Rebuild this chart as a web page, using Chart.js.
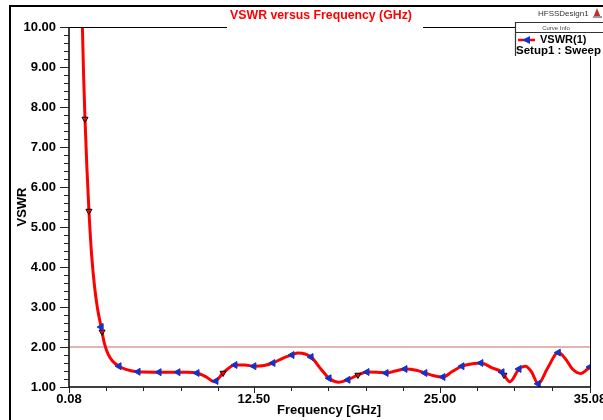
<!DOCTYPE html>
<html><head><meta charset="utf-8">
<script src="https://cdn.jsdelivr.net/npm/chart.js@4/dist/chart.umd.min.js"></script>
<style>html,body{margin:0;padding:0;background:#fff}canvas{display:block}</style>
</head><body>
<div style="width:603px;height:420px"><canvas id="c" width="603" height="420"></canvas></div>
<script>
// ---- data ----
const freqGHz = [0.90,0.98,1.06,1.155,1.28,1.42,1.6,1.8,2.0,2.24,2.45,2.7,3.0,3.44,3.9,4.72,6.13,7.4,8.0,8.68,9.3,9.85,10.43,11.23,11.9,12.5,13.2,13.78,14.5,15.06,15.46,16.34,17.0,17.55,18.22,18.82,19.49,20.1,20.8,21.38,22.0,22.65,23.4,23.99,24.6,25.2,25.8,26.48,27.2,27.75,28.5,29.17,29.7,30.31,30.75,31.15,31.6,32.2,32.95,33.4,33.9,34.45,35.08];
const vswr    = [10.6,10.0,8.8,7.7,6.5,5.4,4.3,3.5,2.95,2.5,2.1,1.83,1.65,1.52,1.44,1.38,1.37,1.37,1.37,1.35,1.25,1.13,1.35,1.55,1.55,1.52,1.54,1.6,1.73,1.8,1.85,1.75,1.45,1.22,1.12,1.18,1.3,1.375,1.37,1.35,1.4,1.45,1.42,1.35,1.28,1.25,1.38,1.52,1.58,1.6,1.48,1.37,1.13,1.45,1.52,1.38,1.08,1.45,1.86,1.72,1.45,1.34,1.5];
const markerFreq = [2.24,3.44,4.72,6.13,7.4,8.68,9.95,11.23,12.5,13.78,15.06,16.34,17.55,18.82,20.1,21.38,22.65,23.99,25.2,26.48,27.75,29.17,30.31,31.6,32.95,35.08];
const markerVswr = [2.5,1.52,1.38,1.37,1.37,1.35,1.15,1.55,1.52,1.6,1.8,1.75,1.22,1.18,1.375,1.35,1.45,1.35,1.25,1.52,1.6,1.37,1.45,1.08,1.86,1.5];
const pointFreq = [1.155,1.42,2.3,10.43,19.49,29.3];
const pointVswr = [7.7,5.4,2.38,1.35,1.3,1.3];
const refFreq = [0.08,35.08];
const refVswr = [2.0,2.0];
const xMajorTicks = [0.08,12.5,25.0,35.08];
const xMinorTicks = [2.58,5.08,7.58,10.08,15,17.5,20,22.5,27.5,30,32.5];
const yMajorTicks = [1,2,3,4,5,6,7,8,9,10];
const yMinorStep = 0.2;

const toXY = (xs, ys) => xs.map((x,i)=>({x:x,y:ys[i]}));
const FONT = "'Liberation Sans', Arial, sans-serif";

const decor = {
  id:'decor',
  afterDraw(chart){
    const ctx = chart.ctx, xs = chart.scales.x, ys = chart.scales.y, a = chart.chartArea;
    ctx.save();
    // outer frame
    ctx.fillStyle = '#000';
    ctx.fillRect(9,5,594,2);
    ctx.fillRect(9,5,2,415);
    // axes
    ctx.strokeStyle = '#000'; ctx.lineWidth = 1.5;
    ctx.beginPath();
    ctx.moveTo(a.left, a.top); ctx.lineTo(a.left, a.bottom); ctx.lineTo(a.right, a.bottom);
    ctx.stroke();
    ctx.lineWidth = 1;
    ctx.beginPath();
    ctx.moveTo(a.left, a.top+0.5); ctx.lineTo(227, a.top+0.5);
    ctx.moveTo(423, a.top+0.5); ctx.lineTo(515, a.top+0.5);
    ctx.moveTo(a.right+0.5, 56); ctx.lineTo(a.right+0.5, a.bottom);
    ctx.stroke();
    // y ticks
    ctx.strokeStyle = '#222'; ctx.lineWidth = 1;
    ctx.beginPath();
    for (let v = 1; v <= 10.0001; v += yMinorStep) {
      const y = Math.round(ys.getPixelForValue(v)) + 0.5;
      const major = Math.abs(v - Math.round(v)) < 1e-6;
      ctx.moveTo(a.left - (major ? 9 : 5), y); ctx.lineTo(a.left, y);
    }
    xMajorTicks.forEach(v => { const x = Math.round(xs.getPixelForValue(v)) + 0.5; ctx.moveTo(x, a.bottom); ctx.lineTo(x, a.bottom + 6); });
    xMinorTicks.forEach(v => { const x = Math.round(xs.getPixelForValue(v)) + 0.5; ctx.moveTo(x, a.bottom); ctx.lineTo(x, a.bottom + 4); });
    ctx.stroke();
    // title
    ctx.fillStyle = '#ff0000';
    ctx.font = 'bold 12.3px ' + FONT;
    ctx.textAlign = 'center'; ctx.textBaseline = 'middle';
    ctx.fillText('VSWR versus Frequency (GHz)', 321, 16);
    // axis titles
    ctx.fillStyle = '#000';
    ctx.font = 'bold 13px ' + FONT;
    ctx.fillText('Frequency [GHz]', 329, 410);
    ctx.save();
    ctx.translate(22, 207); ctx.rotate(-Math.PI/2);
    ctx.fillText('VSWR', 0, 0);
    ctx.restore();
    // HFSS label + logo
    ctx.fillStyle = '#333';
    ctx.font = '8px ' + FONT;
    ctx.textAlign = 'left';
    ctx.fillText('HFSSDesign1', 538, 14);
    ctx.fillStyle = '#c03030';
    ctx.beginPath(); ctx.moveTo(597,8); ctx.lineTo(593,18); ctx.lineTo(601,18); ctx.closePath(); ctx.fill();
    ctx.fillStyle = '#999';
    ctx.fillRect(593,16,9,2);
    // legend box
    ctx.strokeStyle = '#333'; ctx.lineWidth = 1.2;
    ctx.beginPath();
    ctx.moveTo(515.5, 56); ctx.lineTo(515.5, 22.5); ctx.lineTo(603, 22.5);
    ctx.moveTo(515.5, 32.5); ctx.lineTo(603, 32.5);
    ctx.stroke();
    ctx.fillStyle = '#444';
    ctx.font = '6px ' + FONT; ctx.textAlign = 'center';
    ctx.fillText('Curve Info', 556, 28);
    ctx.strokeStyle = '#ff0000'; ctx.lineWidth = 2.5;
    ctx.beginPath(); ctx.moveTo(518, 40); ctx.lineTo(535, 40); ctx.stroke();
    ctx.fillStyle = '#1432c8';
    ctx.beginPath(); ctx.moveTo(522, 40); ctx.lineTo(530, 36); ctx.lineTo(530, 44); ctx.closePath(); ctx.fill();
    ctx.fillStyle = '#000';
    ctx.font = 'bold 11px ' + FONT; ctx.textAlign = 'left';
    ctx.fillText('VSWR(1)', 540, 40);
    ctx.font = 'bold 11.5px ' + FONT;
    ctx.fillText('Setup1 : Sweep', 516, 51);
    ctx.restore();
  }
};

new Chart(document.getElementById('c'), {
  type: 'scatter',
  data: {
    datasets: [
      { data: toXY(markerFreq, markerVswr), showLine:false, pointStyle:'triangle', rotation:270,
        pointRadius:4, backgroundColor:'#1432c8', borderColor:'#1432c8', borderWidth:1, order:1 },
      { data: toXY(pointFreq, pointVswr), showLine:false, pointStyle:'triangle', rotation:180,
        pointRadius:3.5, backgroundColor:'rgba(255,0,0,0.6)', borderColor:'#000', borderWidth:1, order:2 },
      { data: toXY(freqGHz, vswr), showLine:true, borderColor:'#ff0000', borderWidth:3,
        pointRadius:0, cubicInterpolationMode:'monotone', order:3 },
      { data: toXY(refFreq, refVswr), showLine:true, borderColor:'#c46a6a', borderWidth:1,
        pointRadius:0, order:4 }
    ]
  },
  options: {
    responsive:false, animation:false, devicePixelRatio:1,
    layout:{ padding:{ top:27, right:13, left:0, bottom:0 } },
    plugins:{ legend:{display:false}, tooltip:{enabled:false}, title:{display:false} },
    scales:{
      x:{ type:'linear', min:0.08, max:35.08,
        grid:{ display:false, drawTicks:false }, border:{ display:false },
        afterBuildTicks: s => { s.ticks = xMajorTicks.map(v=>({value:v})); },
        afterFit: s => { s.height = 33; s.paddingLeft = 0; s.paddingRight = 0; },
        ticks:{ autoSkip:false, maxRotation:0, padding:5, color:'#000',
          font:{ family:FONT, size:13, weight:'bold' }, callback: v => Number(v).toFixed(2) } },
      y:{ type:'linear', min:1, max:10,
        grid:{ display:false, drawTicks:false }, border:{ display:false },
        afterBuildTicks: s => { s.ticks = yMajorTicks.map(v=>({value:v})); },
        afterFit: s => { s.width = 69; s.paddingTop = 0; s.paddingBottom = 0; },
        ticks:{ autoSkip:false, padding:13, color:'#000',
          font:{ family:FONT, size:13, weight:'bold' }, callback: v => Number(v).toFixed(2) } }
    }
  },
  plugins:[decor]
});
</script>
</body></html>
